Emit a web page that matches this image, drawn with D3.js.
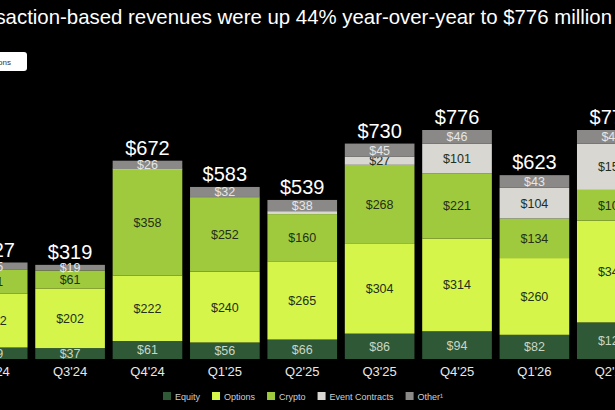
<!DOCTYPE html>
<html>
<head>
<meta charset="utf-8">
<script src="https://cdn.jsdelivr.net/npm/d3@7"></script>
<style>
  html, body { margin: 0; padding: 0; background: #000; }
  svg { display: block; font-family: "Liberation Sans", Arial, sans-serif; }
</style>
</head>
<body>
<script>
// quarters shown on the slide (first and last are cut off by the frame)
var quarters = ["Q2'24", "Q3'24", "Q4'24", "Q1'25", "Q2'25", "Q3'25", "Q4'25", "Q1'26", "Q2'26"];

// revenue by product, $M  (note: "crypto" clashes with window.crypto, hence the Rev suffix)
var equityRev  = [39, 37, 61, 56, 66, 86, 94, 82, 124];
var optionsRev = [182, 202, 222, 240, 265, 304, 314, 260, 345];
var cryptoRev  = [81, 61, 358, 252, 160, 268, 221, 134, 104];
var eventRev   = [0, 0, 5, 3, 10, 27, 101, 104, 157];
var otherRev   = [25, 19, 26, 32, 38, 45, 46, 43, 46];
var totals     = [327, 319, 672, 583, 539, 730, 776, 623, 776];

var seriesNames = ["Equity", "Options", "Crypto", "Event Contracts", "Other\u00b9"];
var seriesKeys  = ["equity", "options", "crypto", "events", "other"];
var colors      = ["#2e5836", "#d6f54a", "#a0ca3d", "#d8d7d2", "#8a8987"];
var labelColors = ["#c9d6c4", "#22301a", "#22301a", "#22301a", "#e6e6e6"];

var W = 615, H = 410;

var svg = d3.select("body").append("svg").attr("width", W).attr("height", H);

// build rows for the stack
var rows = quarters.map(function(q, i) {
  return { q: q, equity: equityRev[i], options: optionsRev[i], crypto: cryptoRev[i],
           events: eventRev[i], other: otherRev[i], total: totals[i] };
});

var stack = d3.stack().keys(seriesKeys)(rows);

var x = d3.scaleBand().domain(quarters).range([-46, 650.5])
  .paddingInner(0.1).paddingOuter(0.05);
var y = d3.scaleLinear().domain([0, 776]).range([359, 130]);

// title (runs off the left edge like the photo)
svg.append("text")
  .attr("x", 612).attr("y", 24)
  .attr("text-anchor", "end")
  .attr("fill", "#fff")
  .style("font-size", "20.4px")
  .text("Transaction-based revenues were up 44% year-over-year to $776 million");

// little "$ in millions" tag, mostly off frame
svg.append("rect").attr("x", -60).attr("y", 52).attr("width", 87).attr("height", 19)
  .attr("rx", 3).attr("fill", "#fff");
svg.append("text").attr("x", 11).attr("y", 64.5).attr("text-anchor", "end")
  .attr("fill", "#333").style("font-size", "8px").text("$ in millions");

// bars
var layer = svg.selectAll("g.layer").data(stack).enter().append("g")
  .attr("class", "layer")
  .attr("fill", function(d, i) { return colors[i]; });

layer.selectAll("rect").data(function(d) { return d; }).enter().append("rect")
  .attr("x", function(d) { return x(d.data.q); })
  .attr("width", x.bandwidth())
  .attr("y", function(d) { return y(d[1]); })
  .attr("height", function(d) { return y(d[0]) - y(d[1]); });

// segment labels (skip the tiny event contract slivers)
layer.each(function(s, si) {
  d3.select(this).selectAll("text").data(s.filter(function(d) { return d[1] - d[0] >= 15; }))
    .enter().append("text")
    .attr("x", function(d) { return x(d.data.q) + x.bandwidth() / 2; })
    .attr("y", function(d) { return (y(d[0]) + y(d[1])) / 2 + 4.5; })
    .attr("text-anchor", "middle")
    .attr("fill", labelColors[si])
    .style("font-size", "12.5px")
    .text(function(d) { return "$" + (d[1] - d[0]); });
});

// totals
svg.selectAll("text.total").data(rows).enter().append("text")
  .attr("class", "total")
  .attr("x", function(d) { return x(d.q) + x.bandwidth() / 2; })
  .attr("y", function(d) { return y(d.total) - 6; })
  .attr("text-anchor", "middle")
  .attr("fill", "#fff")
  .style("font-size", "20px")
  .text(function(d) { return "$" + d.total; });

// x axis labels
var xAxis = svg.append("g").attr("transform", "translate(0,365)")
  .call(d3.axisBottom(x).tickSize(0).tickPadding(0));
xAxis.select(".domain").remove();
xAxis.selectAll("text").attr("fill", "#e8e8e8").style("font-size", "13px")
  .attr("dy", "0.71em").attr("y", 2);

// legend
var lg = svg.append("g").attr("transform", "translate(163,392)");
var lx = 0;
seriesNames.forEach(function(name, i) {
  var item = lg.append("g").attr("transform", "translate(" + lx + ",0)");
  item.append("rect").attr("width", 8).attr("height", 8).attr("fill", colors[i]);
  var t = item.append("text").attr("x", 12).attr("y", 7.5)
    .attr("fill", "#cfcfcf").style("font-size", "9px").text(name);
  lx += 12 + t.node().getComputedTextLength() + 12;
});
</script>
</body>
</html>
